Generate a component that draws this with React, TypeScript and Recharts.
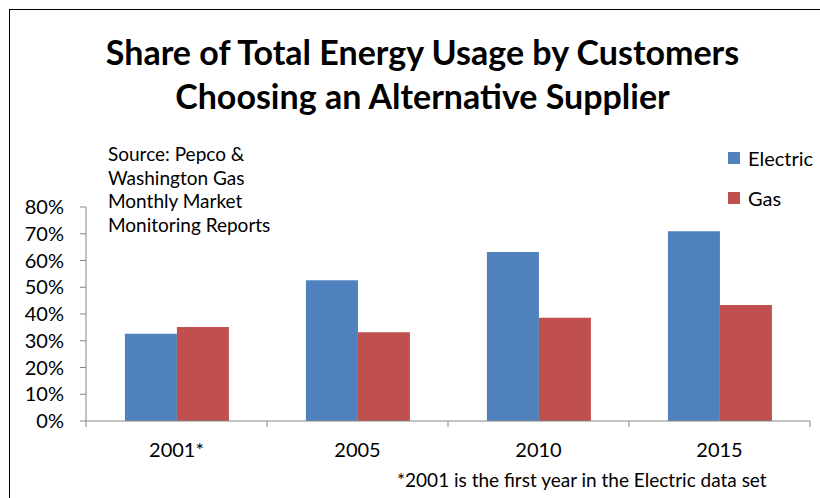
import { BarChart, Bar, XAxis, YAxis, Legend } from 'recharts';

const years = ['2001*', '2005', '2010', '2015'];
const electric = [0.326, 0.526, 0.632, 0.709];
const gas = [0.351, 0.332, 0.386, 0.434];
const yTicks = [0, 0.1, 0.2, 0.3, 0.4, 0.5, 0.6, 0.7, 0.8];

const titleLines = ['Share of Total Energy Usage by Customers', 'Choosing an Alternative Supplier'];
const sourceLines = ['Source: Pepco &', 'Washington Gas', 'Monthly Market', 'Monitoring Reports'];
const footnote = '*2001 is the first year in the Electric data set';

const series = [
  { key: 'electric', name: 'Electric', color: '#4F81BD' },
  { key: 'gas', name: 'Gas', color: '#C0504D' },
];

const data = years.map((year, i) => ({ year, electric: electric[i], gas: gas[i] }));

const FONT = 'Lato, "Liberation Sans", sans-serif';
const AXIS = '#868686';

// category label in the middle, tick marks on the band edges (Excel style)
function YearTick(props: any) {
  const { x, y, payload, index, visibleTicksCount } = props;
  const half = payload && payload.offset ? payload.offset : 0;
  const axisY = y - 22;
  return (
    <g>
      <line x1={x - half} x2={x - half} y1={axisY} y2={axisY + 6} stroke={AXIS} />
      {index === visibleTicksCount - 1 && (
        <line x1={x + half} x2={x + half} y1={axisY} y2={axisY + 6} stroke={AXIS} />
      )}
      <text x={x} y={y} dy="0.71em" textAnchor="middle" fill="#000" fontSize={20} fontFamily={FONT}>
        {payload.value}
      </text>
    </g>
  );
}

function LegendBox(props: any) {
  const items = props.payload || [];
  return (
    <div style={{ fontFamily: FONT, fontSize: 20, color: '#000' }}>
      {items.map((it: any) => (
        <div key={it.value} style={{ display: 'flex', alignItems: 'center', height: 40 }}>
          <span style={{ width: 12, height: 12, background: it.color, display: 'inline-block', marginRight: 8 }} />
          <span>{it.value}</span>
        </div>
      ))}
    </div>
  );
}

export default function App() {
  return (
    <div
      style={{
        position: 'absolute',
        left: 0,
        top: 0,
        width: 820,
        height: 498,
        overflow: 'hidden',
        background: '#fff',
        fontFamily: FONT,
      }}
    >
      <div
        style={{
          position: 'absolute',
          left: 9,
          top: 9,
          width: 900,
          height: 600,
          border: '1.5px solid #000',
        }}
      />
      <div
        style={{
          position: 'absolute',
          left: 0,
          width: 845,
          top: 30,
          textAlign: 'center',
          fontWeight: 700,
          fontSize: 34,
          lineHeight: '44px',
          color: '#000',
        }}
      >
        {titleLines.map((t) => (
          <div key={t}>{t}</div>
        ))}
      </div>
      <div
        style={{
          position: 'absolute',
          left: 108,
          top: 142,
          fontSize: 19,
          lineHeight: '23.7px',
          color: '#000',
        }}
      >
        {sourceLines.map((t) => (
          <div key={t}>{t}</div>
        ))}
      </div>
      <BarChart
        width={820}
        height={498}
        data={data}
        margin={{ top: 207, right: 10, bottom: 47, left: 0 }}
        barCategoryGap="21.5%"
        barGap={0}
        style={{ position: 'absolute', left: 0, top: 0 }}
      >
        <YAxis
          width={86}
          domain={[0, 0.8]}
          ticks={yTicks}
          interval={0}
          tickFormatter={(v: number) => `${Math.round(v * 100)}%`}
          axisLine={{ stroke: AXIS }}
          tickLine={{ stroke: AXIS }}
          tickSize={6}
          tickMargin={16}
          tick={{ fill: '#000', fontSize: 20, fontFamily: FONT }}
        />
        <XAxis
          dataKey="year"
          height={30}
          axisLine={{ stroke: AXIS }}
          tickLine={false}
          tickSize={6}
          tickMargin={16}
          interval={0}
          tick={<YearTick />}
        />
        <Legend
          layout="vertical"
          align="center"
          verticalAlign="middle"
          wrapperStyle={{ left: 728, top: 138, width: 100 }}
          content={<LegendBox />}
        />
        {series.map((s) => (
          <Bar key={s.key} dataKey={s.key} name={s.name} fill={s.color} isAnimationActive={false} />
        ))}
      </BarChart>
      <div
        style={{
          position: 'absolute',
          left: 397,
          top: 468,
          fontSize: 19,
          color: '#000',
          whiteSpace: 'nowrap',
        }}
      >
        {footnote}
      </div>
    </div>
  );
}
